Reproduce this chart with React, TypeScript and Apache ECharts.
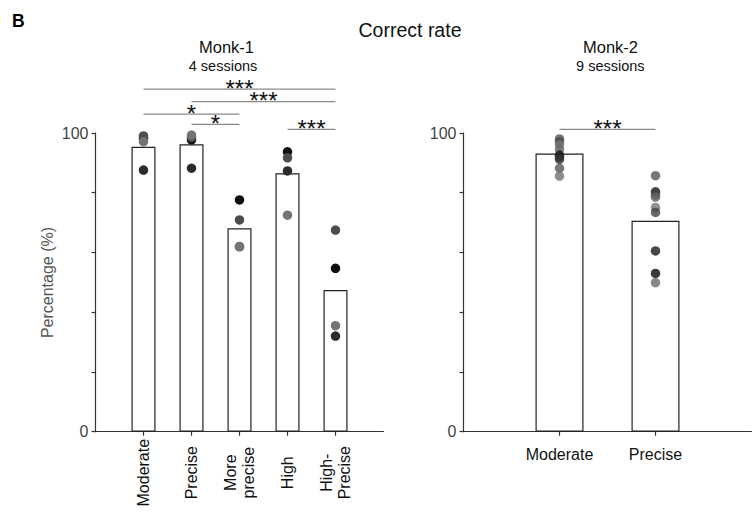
import React, { useEffect, useRef } from "react";
import * as echarts from "echarts";

const monk1Categories = ["Moderate", "Precise", "More\nprecise", "High", "High-\nPrecise"];
const monk1Means = [95.4, 96.2, 68.1, 86.5, 47.4];
const monk1SessionColors = ["#0d0d0d", "#2b2b2b", "#4d4d4d", "#747474"];
const monk1Sessions = [
  [98.2, 97.7, 77.6, 93.7, 54.7],
  [87.6, 88.2, 62.0, 87.3, 32.0],
  [99.0, 98.5, 70.9, 91.7, 67.5],
  [97.1, 99.3, 61.9, 72.5, 35.5],
];

const monk2Categories = ["Moderate", "Precise"];
const monk2Means = [93.1, 70.6];
const monk2Moderate = [98.0, 97.1, 96.0, 94.5, 92.6, 91.9, 91.2, 88.2, 85.6];
const monk2ModerateColors = ["#555555", "#4a4a4a", "#777777", "#666666", "#111111", "#222222", "#333333", "#555555", "#707070"];
const monk2Precise = [85.7, 80.3, 79.2, 78.5, 75.1, 73.4, 60.5, 53.0, 49.9];
const monk2PreciseColors = ["#555555", "#111111", "#444444", "#666666", "#777777", "#444444", "#1a1a1a", "#0a0a0a", "#6a6a6a"];

// [from category, to category, height]
const monk1Sig = [
  [1, 5, 114.7],
  [2, 5, 110.5],
  [1, 3, 106.3],
  [2, 3, 102.9],
  [4, 5, 101.2],
];
const monk1SigLabels = ["***", "***", "*", "*", "***"];
const monk2Sig = [[1, 2, 101.2]];
const monk2SigLabels = ["***"];

const yTickValues = [0, 20, 40, 60, 80, 100];
const yLabelValues = [0, 100];

const FONT = "Liberation Sans, Arial, Helvetica, sans-serif";

function sigRender(labels: string[]) {
  return (params: any, api: any) => {
    const a = api.coord([api.value(0), api.value(2)]);
    const b = api.coord([api.value(1), api.value(2)]);
    return {
      type: "group",
      children: [
        {
          type: "line",
          shape: { x1: a[0], y1: a[1], x2: b[0], y2: b[1] },
          style: { stroke: "#8a8a8a", lineWidth: 1.3 },
        },
        {
          type: "text",
          style: {
            text: labels[params.dataIndex],
            x: (a[0] + b[0]) / 2,
            y: a[1] - 1,
            align: "center",
            verticalAlign: "middle",
            fontSize: 24,
            fontFamily: FONT,
            fill: "#111",
          },
        },
      ],
    };
  };
}

export default function App() {
  const ref = useRef<HTMLDivElement>(null);
  useEffect(() => {
    document.body.style.margin = "0";
    if (!ref.current) return;
    const chart = echarts.init(ref.current, null, { renderer: "svg" });

    const axisLineStyle = { color: "#333", width: 1.2 };
    const yAxisCommon = {
      type: "value",
      min: 0,
      max: 100,
      interval: 20,
      splitLine: { show: false },
      axisLine: { show: true, lineStyle: axisLineStyle },
      axisTick: { show: true, length: 4, lineStyle: axisLineStyle, customValues: yTickValues },
      axisLabel: { customValues: yLabelValues, fontSize: 16, color: "#444", fontFamily: FONT, margin: 7 },
    };

    const leftXs = monk1Categories.map((_, i) => i + 1);
    const rightXs = monk2Categories.map((_, i) => i + 1);

    const option: any = {
      animation: false,
      grid: [
        { left: 95.5, top: 133, width: 288, height: 298.7 },
        { left: 463.5, top: 133, width: 288, height: 298.7 },
      ],
      xAxis: [
        {
          type: "value",
          gridIndex: 0,
          min: 0,
          max: 6,
          splitLine: { show: false },
          axisLine: { lineStyle: axisLineStyle },
          axisTick: { show: true, length: 4, lineStyle: axisLineStyle, customValues: leftXs },
          axisLabel: {
            customValues: leftXs,
            formatter: (v: number) => monk1Categories[Math.round(v) - 1] ?? "",
            rotate: 90,
            align: "center",
            verticalAlign: "middle",
            margin: 41,
            fontSize: 16,
            lineHeight: 18,
            color: "#111",
            fontFamily: FONT,
          },
        },
        {
          type: "value",
          gridIndex: 1,
          min: 0,
          max: 3,
          splitLine: { show: false },
          axisLine: { lineStyle: axisLineStyle },
          axisTick: { show: true, length: 4, lineStyle: axisLineStyle, customValues: rightXs },
          axisLabel: {
            customValues: rightXs,
            formatter: (v: number) => monk2Categories[Math.round(v) - 1] ?? "",
            margin: 15,
            fontSize: 16,
            color: "#111",
            fontFamily: FONT,
          },
        },
      ],
      yAxis: [
        { ...yAxisCommon, gridIndex: 0 },
        { ...yAxisCommon, gridIndex: 1 },
      ],
      graphic: [
        { type: "text", x: 12, y: 12, style: { text: "B", fontSize: 17.5, fontWeight: "bold", fontFamily: FONT, fill: "#000" } },
        { type: "text", x: 410, y: 30, style: { text: "Correct rate", fontSize: 19.5, fontFamily: FONT, fill: "#111", align: "center", verticalAlign: "middle" } },
        { type: "text", x: 226.5, y: 47, style: { text: "Monk-1", fontSize: 16.5, fontFamily: FONT, fill: "#111", align: "center", verticalAlign: "middle" } },
        { type: "text", x: 223, y: 65.5, style: { text: "4 sessions", fontSize: 14.5, fontFamily: FONT, fill: "#111", align: "center", verticalAlign: "middle" } },
        { type: "text", x: 610.5, y: 47, style: { text: "Monk-2", fontSize: 16.5, fontFamily: FONT, fill: "#111", align: "center", verticalAlign: "middle" } },
        { type: "text", x: 610.3, y: 65.5, style: { text: "9 sessions", fontSize: 14.5, fontFamily: FONT, fill: "#111", align: "center", verticalAlign: "middle" } },
        { type: "text", x: 47.5, y: 282.5, rotation: Math.PI / 2, style: { text: "Percentage (%)", fontSize: 16, fontFamily: FONT, fill: "#555", align: "center", verticalAlign: "middle" } },
      ],
      series: [
        {
          type: "bar",
          xAxisIndex: 0,
          yAxisIndex: 0,
          barWidth: 24,
          data: monk1Means.map((v, i) => [i + 1, v]),
          itemStyle: { color: "#fff", borderColor: "#222", borderWidth: 1.2 },
          z: 1,
        },
        ...monk1Sessions.map((vals, s) => ({
          type: "scatter",
          xAxisIndex: 0,
          yAxisIndex: 0,
          symbolSize: 9.5,
          data: vals.map((v, i) => [i + 1, v]),
          itemStyle: { color: monk1SessionColors[s], opacity: 1 },
          z: 3,
        })),
        {
          type: "bar",
          xAxisIndex: 1,
          yAxisIndex: 1,
          barWidth: 48,
          data: monk2Means.map((v, i) => [i + 1, v]),
          itemStyle: { color: "#fff", borderColor: "#222", borderWidth: 1.2 },
          z: 1,
        },
        {
          type: "scatter",
          xAxisIndex: 1,
          yAxisIndex: 1,
          symbolSize: 9.5,
          data: [
            ...monk2Moderate.map((v, i) => ({ value: [1, v], itemStyle: { color: monk2ModerateColors[i] } })),
            ...monk2Precise.map((v, i) => ({ value: [2, v], itemStyle: { color: monk2PreciseColors[i] } })),
          ],
          z: 3,
        },
        {
          type: "custom",
          xAxisIndex: 0,
          yAxisIndex: 0,
          clip: false,
          renderItem: sigRender(monk1SigLabels),
          encode: { x: [0, 1], y: 2 },
          data: monk1Sig,
          z: 4,
        },
        {
          type: "custom",
          xAxisIndex: 1,
          yAxisIndex: 1,
          clip: false,
          renderItem: sigRender(monk2SigLabels),
          encode: { x: [0, 1], y: 2 },
          data: monk2Sig,
          z: 4,
        },
      ],
    };
    chart.setOption(option);
    return () => chart.dispose();
  }, []);
  return <div ref={ref} style={{ width: 756, height: 518 }} />;
}
